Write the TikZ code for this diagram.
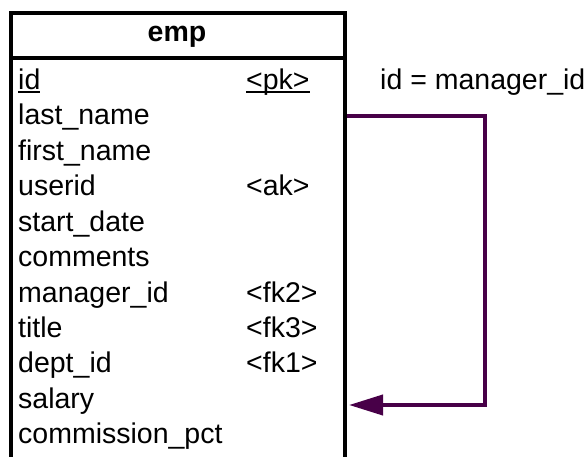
\documentclass[tikz,border=0pt]{standalone}
\usepackage{fontspec}
\setmainfont{Liberation Sans}
\usetikzlibrary{arrows.meta}
\definecolor{relcol}{RGB}{72,0,72}
% thick underline for key columns
\newcommand\keyul[1]{\setbox0\hbox{#1}\rlap{\rule[-3.5pt]{\wd0}{2.4pt}}\box0}
\begin{document}
\begin{tikzpicture}[x=1pt,y=-1pt,
  attr/.style={anchor=base west,inner sep=0pt,font=\fontsize{28.5}{32}\selectfont},
  tbl/.style={draw=black,line width=4pt},
  rel/.style={draw=relcol,line width=4pt,line join=miter}]
\useasboundingbox (0,0) rectangle (586,457);
% table frame (runs past the lower edge)
\draw[tbl] (10.5,470) -- (10.5,13.5) -- (344.5,13.5) -- (344.5,470);
\draw[tbl] (10.5,58.5) -- (344.5,58.5);
\node[anchor=base,inner sep=0pt,font=\fontsize{28.5}{32}\selectfont\bfseries] (title) at (177,42) {emp};
% columns
\node[attr] (a1) at (18,90) {\keyul{id}};
\node[attr] (k1) at (246,90) {\keyul{<pk>}};
\node[attr] (a2) at (18,125) {last\_name};
\node[attr] (a3) at (18,160.5) {first\_name};
\node[attr] (a4) at (18,196) {userid};
\node[attr] (k4) at (246,196) {<ak>};
\node[attr] (a5) at (18,231) {start\_date};
\node[attr] (a6) at (18,266.5) {comments};
\node[attr] (a7) at (18,302) {manager\_id};
\node[attr] (k7) at (246,302) {<fk2>};
\node[attr] (a8) at (18,337) {title};
\node[attr] (k8) at (246,337) {<fk3>};
\node[attr] (a9) at (18,372.5) {dept\_id};
\node[attr] (k9) at (246,372.5) {<fk1>};
\node[attr] (a10) at (18,408) {salary};
\node[attr] (a11) at (18,443) {commission\_pct};
% self reference
\node[attr] (lbl) at (380,90) {id = manager\_id};
\coordinate (from) at (347,116);
\coordinate (to) at (349,405);
\draw[rel,-{Triangle[length=34pt,width=20pt]}] (from) -- (485,116) -- (485,405) -- (to);
\end{tikzpicture}
\end{document}
